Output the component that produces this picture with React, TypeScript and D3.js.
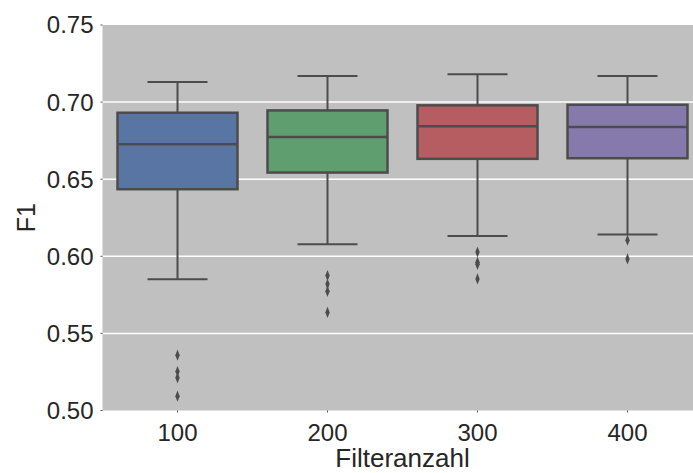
import React from "react";
import * as d3 from "d3";

// Filter counts on the x axis
const categories = ["100", "200", "300", "400"];

// Box statistics per filter count
const whiskerHigh = [0.713, 0.7169, 0.718, 0.7169];
const q3 = [0.6931, 0.6946, 0.6979, 0.6983];
const median = [0.6727, 0.6773, 0.6844, 0.6838];
const q1 = [0.6435, 0.6543, 0.6632, 0.6636];
const whiskerLow = [0.5851, 0.6078, 0.6132, 0.6141];

// Outlying F1 scores
const outliers100 = [0.5359, 0.5253, 0.5212, 0.5093];
const outliers200 = [0.5875, 0.582, 0.5773, 0.5636];
const outliers300 = [0.6028, 0.5961, 0.5948, 0.5853];
const outliers400 = [0.6104, 0.5983];
const outliers = [outliers100, outliers200, outliers300, outliers400];

const yTicks = [0.5, 0.55, 0.6, 0.65, 0.7, 0.75];

const colors = ["#5975a4", "#5f9e6e", "#b55d60", "#857aab"];

const W = 693;
const H = 473;
const left = 102.5;
const top = 25;
const bottom = 410.5;
const right = left + 600;

const lineColor = "#4c4c4c";
const textColor = "#262626";
const font = "'Liberation Sans', Arial, sans-serif";

export default function App() {
  const x = d3.scaleBand<string>().domain(categories).range([left, right]).paddingInner(0).paddingOuter(0);
  const y = d3.scaleLinear().domain([0.5, 0.75]).range([bottom, top]);
  const bw = x.bandwidth() * 0.8;
  const diamond = d3.symbol().type(d3.symbolDiamond).size(30)();

  return (
    <svg width={W} height={H} style={{ position: "absolute", left: 0, top: 0 }}>
      <defs>
        <clipPath id="plotclip">
          <rect x={left} y={top} width={right - left} height={bottom - top} />
        </clipPath>
      </defs>
      <rect x={left} y={top} width={right - left} height={bottom - top} fill="#c0c0c0" />
      {yTicks.slice(1, -1).map((t) => (
        <line key={t} x1={left} x2={right} y1={y(t)} y2={y(t)} stroke="#ffffff" strokeWidth={1.5} />
      ))}
      <g clipPath="url(#plotclip)">
        {categories.map((c, i) => {
          const cx = x(c)! + x.bandwidth() / 2;
          return (
            <g key={c}>
              <line x1={cx} x2={cx} y1={y(q3[i])} y2={y(whiskerHigh[i])} stroke={lineColor} strokeWidth={2} />
              <line x1={cx} x2={cx} y1={y(q1[i])} y2={y(whiskerLow[i])} stroke={lineColor} strokeWidth={2} />
              <line x1={cx - bw / 4} x2={cx + bw / 4} y1={y(whiskerHigh[i])} y2={y(whiskerHigh[i])} stroke={lineColor} strokeWidth={2} />
              <line x1={cx - bw / 4} x2={cx + bw / 4} y1={y(whiskerLow[i])} y2={y(whiskerLow[i])} stroke={lineColor} strokeWidth={2} />
              <rect
                x={cx - bw / 2}
                y={y(q3[i])}
                width={bw}
                height={y(q1[i]) - y(q3[i])}
                fill={colors[i]}
                stroke={lineColor}
                strokeWidth={2.5}
              />
              <line x1={cx - bw / 2} x2={cx + bw / 2} y1={y(median[i])} y2={y(median[i])} stroke={lineColor} strokeWidth={2.5} />
              {outliers[i].map((v, j) => (
                <path
                  key={j}
                  d={diamond!}
                  transform={`translate(${cx},${y(v)}) scale(0.75,1.1)`}
                  fill={lineColor}
                />
              ))}
            </g>
          );
        })}
      </g>
      {yTicks.map((t) => (
        <g key={t}>
          <line x1={left - 2} x2={left} y1={y(t)} y2={y(t)} stroke="#555" strokeWidth={1} />
          <text
            x={left - 9}
            y={y(t)}
            dy="0.35em"
            textAnchor="end"
            fontFamily={font}
            fontSize={24}
            fill={textColor}
          >
            {t.toFixed(2)}
          </text>
        </g>
      ))}
      {categories.map((c) => {
        const cx = x(c)! + x.bandwidth() / 2;
        return (
          <g key={c}>
            <line x1={cx} x2={cx} y1={bottom} y2={bottom + 2} stroke="#555" strokeWidth={1} />
            <text x={cx} y={bottom + 30} textAnchor="middle" fontFamily={font} fontSize={24} fill={textColor}>
              {c}
            </text>
          </g>
        );
      })}
      <text x={(left + right) / 2} y={467} textAnchor="middle" fontFamily={font} fontSize={26} fill={textColor}>
        Filteranzahl
      </text>
      <text
        transform={`translate(35,${(top + bottom) / 2}) rotate(-90)`}
        textAnchor="middle"
        fontFamily={font}
        fontSize={25}
        fill={textColor}
      >
        F1
      </text>
    </svg>
  );
}
